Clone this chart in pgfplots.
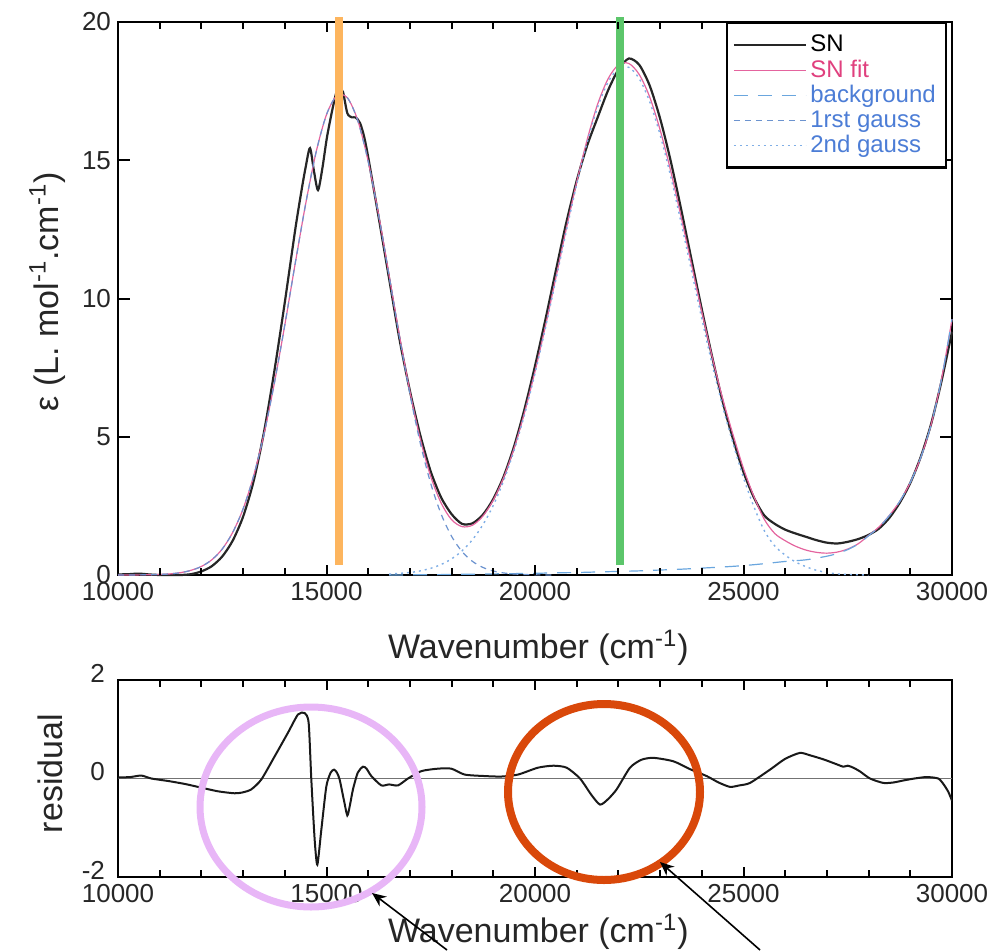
\documentclass[border=0pt]{standalone}
\usepackage{pgfplots}
\pgfplotsset{compat=1.18}
\usepackage{fontspec}
\setmainfont{Liberation Sans}
\usetikzlibrary{arrows.meta}
\definecolor{fitpink}{HTML}{E4649E}
\definecolor{fittext}{HTML}{E0407E}
\definecolor{bgblue}{HTML}{6AA6DE}
\definecolor{gblue}{HTML}{6C93CF}
\definecolor{gdot}{HTML}{7FAEE6}
\definecolor{legblue}{HTML}{4C7DD6}
\definecolor{vorange}{HTML}{FDB55E}
\definecolor{vgreen}{HTML}{5CC66B}
\definecolor{lilac}{HTML}{E8B6F7}
\definecolor{rorange}{HTML}{D9480A}
\pgfplotsset{
  common/.style={
    scale only axis, width=417pt,
    xmin=10000, xmax=30000,
    xtick={10000,15000,20000,25000,30000},
    minor xtick={11000,12000,13000,14000,16000,17000,18000,19000,21000,22000,23000,24000,26000,27000,28000,29000},
    xtick align=inside, ytick align=inside,
    major tick length=5pt, minor tick length=3.5pt,
    every tick/.append style={black, line width=1pt},
    axis line style={line width=1.2pt},
    /pgf/number format/1000 sep={},
    /pgf/number format/assume math mode=true,
    scaled x ticks=false,
    tick label style={font=\fontsize{13}{15}\selectfont, text=black!85},
    label style={font=\fontsize{17}{20}\selectfont, text=black!85},
  }
}
\begin{document}
\begin{tikzpicture}
\path[use as bounding box] (0,0) rectangle (497.5pt,475pt);
% ---------------- top axis ----------------
\begin{axis}[common,
  at={(59pt,187.5pt)}, anchor=south west,
  height=276.5pt,
  ymin=0, ymax=20, ytick={0,5,10,15,20},
  clip=false,
  xlabel={Wavenumber (cm\textsuperscript{-1})},
  xlabel style={at={(axis description cs:0.504,0)}, anchor=center, yshift=-36.5pt},
  ylabel={ε (L. mol\textsuperscript{-1}.cm\textsuperscript{-1})},
  ylabel style={at={(axis description cs:-0.085,0.512)}, anchor=center},
  legend style={at={(axis description cs:0.994,1)}, anchor=north east,
    draw=black, line width=1.2pt, fill=white,
    font=\fontsize{12}{13}\selectfont,
    inner xsep=3pt, inner ysep=4pt, row sep=-1.5pt,
    cells={anchor=west}},
  legend image code/.code={\draw[line width=0.6pt,#1] (0pt,0pt) -- (36pt,0pt);},
]
\addplot[black!85, line width=1.1pt, smooth, tension=0.45] coordinates {
(10000,0.02) (10250,0.03) (10500,0.05) (10750,0.02) (11000,0.0) (11250,0.0)
(11500,0.0) (11750,0.03) (12000,0.13) (12250,0.32) (12500,0.67) (12750,1.24)
(13000,2.11) (13250,3.38) (13500,5.16) (13750,7.38) (14000,9.86) (14250,12.49)
(14400,13.9) (14500,14.75) (14604,15.44) (14700,14.6) (14796,13.92) (14900,14.7)
(15012,15.84) (15150,16.9) (15252,17.54) (15320,17.58) (15396,17.47) (15500,16.7)
(15612,16.55) (15700,16.55) (15803,16.35) (15900,15.87) (16000,15.11) (16250,12.94)
(16500,10.73) (16750,8.53) (17000,6.66) (17250,5.05) (17500,3.74) (17750,2.80)
(18000,2.20) (18250,1.85) (18500,1.87) (18750,2.18) (19000,2.75) (19250,3.57)
(19500,4.66) (19750,6.01) (20000,7.56) (20250,9.24) (20500,11.01) (20750,12.74)
(21000,14.26) (21250,15.53) (21500,16.54) (21750,17.52) (22000,18.28) (22250,18.68)
(22500,18.45) (22750,17.70) (23000,16.51) (23250,15.00) (23500,13.26) (23750,11.43)
(24000,9.61) (24250,7.88) (24500,6.27) (24750,4.91) (25000,3.72) (25250,2.80)
(25500,2.15) (25750,1.85) (26000,1.64) (26250,1.50) (26500,1.38) (26750,1.26)
(27000,1.17) (27250,1.14) (27500,1.20) (27750,1.30) (28000,1.45) (28250,1.68)
(28500,2.07) (28750,2.62) (29000,3.33) (29250,4.27) (29500,5.47) (29750,7.02)
(30000,8.80)
};
\addlegendentry{SN}
\addplot[fitpink, line width=0.6pt, smooth] coordinates {
(10000,0.0) (10500,0.004) (11000,0.02) (11250,0.04) (11500,0.085) (11750,0.17)
(12000,0.31) (12250,0.55) (12500,0.94) (12750,1.54) (13000,2.39) (13250,3.57)
(13500,5.09) (13750,6.94) (14000,9.04) (14250,11.27) (14500,13.42) (14750,15.29)
(15000,16.65) (15250,17.34) (15500,17.26) (15750,16.44) (16000,14.96) (16250,13.03)
(16500,10.85) (16750,8.66) (17000,6.64) (17250,4.91) (17500,3.56) (17750,2.60)
(18000,2.00) (18250,1.75) (18500,1.80) (18750,2.13) (19000,2.71) (19250,3.53)
(19500,4.59) (19750,5.88) (20000,7.36) (20250,9.00) (20500,10.75) (20750,12.52)
(21000,14.21) (21250,15.74) (21500,17.02) (21750,17.94) (22000,18.45) (22250,18.50)
(22500,18.10) (22750,17.29) (23000,16.10) (23250,14.64) (23500,12.98) (23750,11.25)
(24000,9.52) (24250,7.88) (24500,6.38) (24750,5.07) (25000,3.85) (25250,2.84)
(25500,2.01) (25750,1.50) (26000,1.24) (26250,1.04) (26500,0.90) (26750,0.82)
(27000,0.79) (27250,0.83) (27500,0.94) (27750,1.13) (28000,1.43) (28250,1.74)
(28500,2.16) (28750,2.67) (29000,3.35) (29250,4.25) (29500,5.45) (29750,7.10)
(30000,9.25)
};
\addlegendentry{\textcolor{fittext}{SN fit}}
\addplot[bgblue, line width=0.6pt, dash pattern=on 7pt off 5pt, smooth] coordinates {
(16500,0) (17000,0.005) (17500,0.01) (18000,0.02) (18500,0.03) (19000,0.04)
(19500,0.05) (20000,0.06) (20500,0.08) (21000,0.09) (21500,0.11) (22000,0.13)
(22500,0.15) (23000,0.18) (23500,0.21) (24000,0.25) (24500,0.29) (25000,0.34)
(25500,0.41) (26000,0.49) (26500,0.55) (27000,0.68) (27250,0.78) (27500,0.92)
(27750,1.12) (28000,1.42) (28250,1.73) (28500,2.15) (28750,2.67) (29000,3.35)
(29250,4.25) (29500,5.45) (29750,7.10) (30000,9.25)
};
\addlegendentry{\textcolor{legblue}{background}}
\addplot[gblue, line width=0.6pt, dash pattern=on 3pt off 2.5pt, smooth] coordinates {
(10000,0) (10500,0.004) (11000,0.02) (11250,0.042) (11500,0.085) (11750,0.166)
(12000,0.309) (12250,0.552) (12500,0.941) (12750,1.536) (13000,2.394) (13250,3.570)
(13500,5.091) (13750,6.939) (14000,9.043) (14250,11.27) (14500,13.42) (14750,15.29)
(15000,16.65) (15250,17.34) (15500,17.26) (15750,16.43) (16000,14.95) (16250,13.01)
(16500,10.82) (16750,8.608) (17000,6.546) (17250,4.759) (17500,3.308) (17750,2.199)
(18000,1.398) (18250,0.849) (18500,0.493) (18750,0.274) (19000,0.145) (19250,0.074)
(19500,0.036) (20000,0.007) (20500,0.001)
};
\addlegendentry{\textcolor{legblue}{1rst gauss}}
\addplot[gdot, line width=0.7pt, dash pattern=on 1pt off 2pt, smooth] coordinates {
(16500,0.031) (17000,0.091) (17250,0.150) (17500,0.242) (17750,0.381) (18000,0.584)
(18250,0.874) (18500,1.276) (18750,1.817) (19000,2.521) (19250,3.413) (19500,4.508)
(19750,5.805) (20000,7.290) (20250,8.930) (20500,10.67) (20750,12.43) (21000,14.12)
(21250,15.64) (21500,16.91) (21750,17.82) (22000,18.32) (22250,18.36) (22500,17.95)
(22750,17.12) (23000,15.92) (23250,14.44) (23500,12.77) (23750,11.02) (24000,9.270)
(24250,7.607) (24500,6.089) (24750,4.751) (25000,3.51) (25250,2.47) (25500,1.60)
(25750,1.05) (26000,0.72) (26250,0.47) (26500,0.30) (26750,0.17) (27000,0.09)
(27250,0.04) (27500,0.02) (28000,0.0)
};
\addlegendentry{\textcolor{legblue}{2nd gauss}}
\addplot[vorange, line width=4pt, forget plot] coordinates {(15292,0.36) (15292,20.18)};
\addplot[vgreen, line width=4pt, forget plot] coordinates {(22038,0.36) (22038,20.18)};
% tick marks (inward)
\pgfplotsinvokeforeach{11000,12000,13000,14000,16000,17000,18000,19000,21000,22000,23000,24000,26000,27000,28000,29000}{
  \draw[black, line width=1pt] (axis cs:#1,0) -- ++(0pt,3.5pt);
  \draw[black, line width=1pt] (axis cs:#1,20) -- ++(0pt,-3.5pt);
}
\pgfplotsinvokeforeach{15000,20000,25000}{
  \draw[black, line width=1pt] (axis cs:#1,0) -- ++(0pt,5pt);
  \draw[black, line width=1pt] (axis cs:#1,20) -- ++(0pt,-5pt);
}
\pgfplotsinvokeforeach{5,10,15}{
  \draw[black, line width=1pt] (axis cs:10000,#1) -- ++(6pt,0pt);
  \draw[black, line width=1pt] (axis cs:30000,#1) -- ++(-6pt,0pt);
}
\end{axis}
% ---------------- residual axis ----------------
\begin{axis}[common,
  at={(59pt,36.5pt)}, anchor=south west,
  height=98.5pt,
  ymin=-2, ymax=2, ytick={-2,0,2},
  ytick style={draw=none},
  yticklabel style={xshift=-3pt, yshift=3.5pt},
  xlabel={Wavenumber (cm\textsuperscript{-1})},
  xlabel style={at={(axis description cs:0.504,0)}, anchor=center, yshift=-27.5pt},
  ylabel={residual},
  ylabel style={at={(axis description cs:-0.0815,0.525)}, anchor=center},
]
\addplot[black!55, line width=0.8pt] coordinates {(10000,0) (30000,0)};
\addplot[black!90, line width=1pt, smooth, tension=0.4] coordinates {
(10000,0.02) (10300,0.03) (10560,0.06) (10800,0.0) (11200,-0.05) (11600,-0.11)
(11918,-0.17) (12398,-0.26) (12797,-0.30) (13000,-0.28) (13197,-0.22) (13437,-0.02)
(13757,0.45) (14076,0.93) (14316,1.30) (14476,1.33) (14572,1.13) (14636,-0.02)
(14716,-1.24) (14780,-1.75) (14876,-1.04) (14996,-0.16) (15100,0.12) (15180,0.18)
(15250,0.12) (15315,-0.02) (15420,-0.45) (15499,-0.75) (15560,-0.55) (15635,-0.22)
(15750,0.12) (15875,0.24) (15960,0.20) (16075,0.05) (16315,-0.14) (16500,-0.12)
(16714,-0.14) (16954,0.0) (17274,0.15) (17673,0.20) (17993,0.20) (18313,0.08)
(18792,0.05) (19192,0.04) (19592,0.08) (20071,0.22) (20440,0.26) (20759,0.22)
(21079,0.0) (21350,-0.33) (21559,-0.53) (21750,-0.42) (21958,-0.22) (22278,0.22)
(22550,0.38) (22838,0.42) (23317,0.35) (23717,0.19) (24116,0.05) (24400,-0.08)
(24676,-0.17) (24900,-0.14) (25155,-0.09) (25635,0.18) (26000,0.40) (26354,0.52)
(26600,0.47) (26914,0.39) (27200,0.30) (27393,0.24) (27500,0.26) (27633,0.22)
(27800,0.14) (28033,0.0) (28353,-0.09) (28600,-0.08) (28832,-0.04) (29100,0.0)
(29391,0.03) (29671,0.0) (29800,-0.12) (29911,-0.27) (30000,-0.45)
};
\pgfplotsinvokeforeach{11000,12000,13000,14000,16000,17000,18000,19000,21000,22000,23000,24000,26000,27000,28000,29000}{
  \draw[black, line width=1pt] (axis cs:#1,-2) -- ++(0pt,3.5pt);
  \draw[black, line width=1pt] (axis cs:#1,2) -- ++(0pt,-3.5pt);
}
\pgfplotsinvokeforeach{15000,20000,25000}{
  \draw[black, line width=1pt] (axis cs:#1,-2) -- ++(0pt,5pt);
  \draw[black, line width=1pt] (axis cs:#1,2) -- ++(0pt,-5pt);
}
\end{axis}
% ---------------- annotations ----------------
\draw[lilac, line width=3.5pt] (155.5pt,71.5pt) ellipse [x radius=55.5pt, y radius=50pt];
\draw[rorange, line width=4pt] (302pt,79pt) ellipse [x radius=48pt, y radius=44pt];
\draw[black, line width=0.8pt, -{Stealth[length=7pt,width=6pt]}] (223.5pt,0pt) -- (186pt,28.5pt);
\draw[black, line width=0.8pt, -{Stealth[length=7pt,width=6pt]}] (380pt,0pt) -- (330pt,44pt);
\end{tikzpicture}
\end{document}
